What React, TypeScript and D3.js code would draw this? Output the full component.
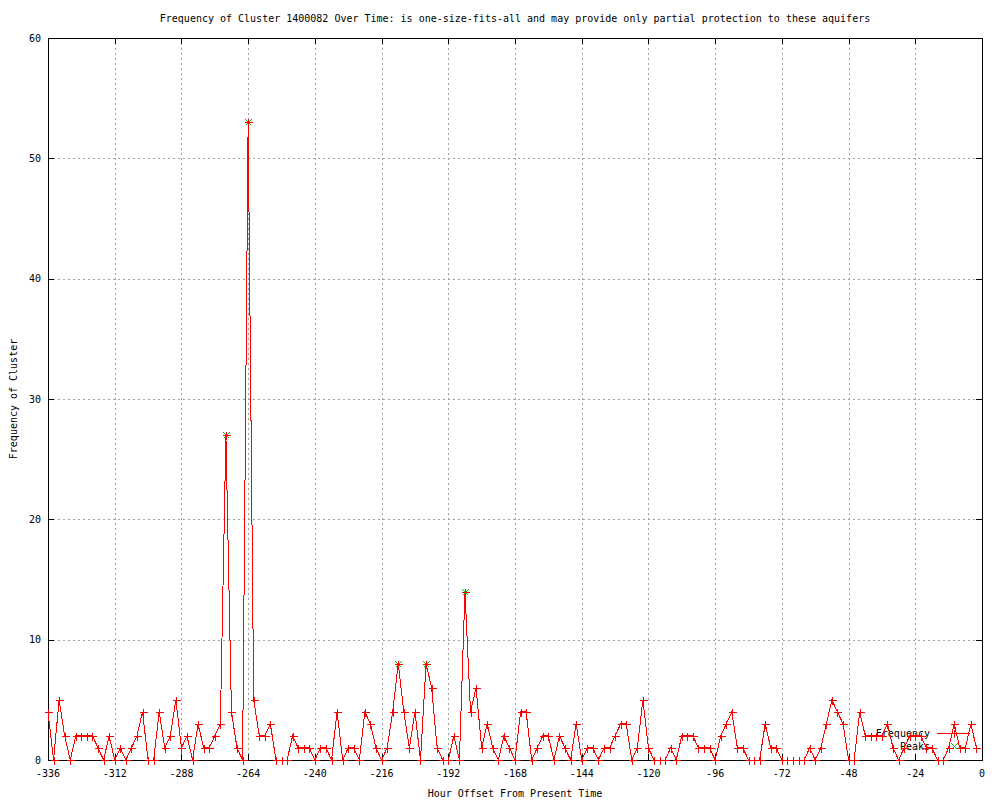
import React from 'react';
import * as d3 from 'd3';

const hours: number[] = [
  -336, -334, -332, -330, -328, -326, -324, -322, -320, -318, -316, -314, -312, -310, -308, -306,
  -304, -302, -300, -298, -296, -294, -292, -290, -288, -286, -284, -282, -280, -278, -276, -274,
  -272, -270, -268, -266, -264, -262, -260, -258, -256, -254, -252, -250, -248, -246, -244, -242,
  -240, -238, -236, -234, -232, -230, -228, -226, -224, -222, -220, -218, -216, -214, -212, -210,
  -208, -206, -204, -202, -200, -198, -196, -194, -192, -190, -188, -186, -184, -182, -180, -178,
  -176, -174, -172, -170, -168, -166, -164, -162, -160, -158, -156, -154, -152, -150, -148, -146,
  -144, -142, -140, -138, -136, -134, -132, -130, -128, -126, -124, -122, -120, -118, -116, -114,
  -112, -110, -108, -106, -104, -102, -100, -98, -96, -94, -92, -90, -88, -86, -84, -82,
  -80, -78, -76, -74, -72, -70, -68, -66, -64, -62, -60, -58, -56, -54, -52, -50,
  -48, -46, -44, -42, -40, -38, -36, -34, -32, -30, -28, -26, -24, -22, -20, -18,
  -16, -14, -12, -10, -8, -6, -4, -2,
];

const frequency: number[] = [
  4, 0, 5, 2, 0, 2, 2, 2, 2, 1, 0, 2, 0, 1, 0, 1,
  2, 4, 0, 0, 4, 1, 2, 5, 1, 2, 0, 3, 1, 1, 2, 3,
  27, 4, 1, 0, 53, 5, 2, 2, 3, 0, 0, 0, 2, 1, 1, 1,
  0, 1, 1, 0, 4, 0, 1, 1, 0, 4, 3, 1, 0, 1, 4, 8,
  4, 1, 4, 0, 8, 6, 1, 0, 0, 2, 0, 14, 4, 6, 1, 3,
  1, 0, 2, 1, 0, 4, 4, 0, 1, 2, 2, 0, 2, 1, 0, 3,
  0, 1, 1, 0, 1, 1, 2, 3, 3, 0, 1, 5, 1, 0, 0, 0,
  1, 0, 2, 2, 2, 1, 1, 1, 0, 2, 3, 4, 1, 1, 0, 0,
  0, 3, 1, 1, 0, 0, 0, 0, 0, 1, 0, 1, 3, 5, 4, 3,
  0, 0, 4, 2, 2, 2, 2, 3, 1, 0, 1, 2, 2, 2, 1, 1,
  0, 0, 1, 3, 1, 1, 3, 1,
];

const peakHours: number[] = [-272, -264, -210, -200, -186];
const peakValues: number[] = [27, 53, 8, 8, 14];

const xTicks: number[] = [-336, -312, -288, -264, -240, -216, -192, -168, -144, -120, -96, -72, -48, -24, 0];
const yTicks: number[] = [0, 10, 20, 30, 40, 50, 60];

const titleText = 'Frequency of Cluster 1400082 Over Time: is one-size-fits-all and may provide only partial protection to these aquifers';
const xLabel = 'Hour Offset From Present Time';
const yLabel = 'Frequency of Cluster';
const legendLabels: string[] = ['Frequency', 'Peaks'];

const L = 48, R = 982, T = 38, B = 760;
const FONT = '"DejaVu Sans Mono", monospace';

export default function App() {
  const x = d3.scaleLinear().domain([-336, 0]).range([L, R]);
  const y = d3.scaleLinear().domain([0, 60]).range([B, T]);

  const pts = hours.map((h, i) => [x(h), y(frequency[i])] as [number, number]);
  const line = d3.line<[number, number]>().x(d => d[0]).y(d => d[1])(pts) || '';

  const plus = (cx: number, cy: number) => `M${cx - 4},${cy}H${cx + 4}M${cx},${cy - 4}V${cy + 4}`;
  const cross = (cx: number, cy: number) => `M${cx - 3},${cy - 3}L${cx + 3},${cy + 3}M${cx - 3},${cy + 3}L${cx + 3},${cy - 3}`;

  const plusPath = pts.map(p => plus(Math.round(p[0]) + 0.5, Math.round(p[1]) + 0.5)).join('');
  const crossPath = peakHours.map((h, i) => cross(Math.round(x(h)) + 0.5, Math.round(y(peakValues[i])) + 0.5)).join('');

  const legY1 = 733, legY2 = 746;
  const legLineX0 = 937, legLineX1 = 970, legMid = 954;

  return (
    <svg width={1000} height={800} style={{ position: 'absolute', left: 0, top: 0, background: '#fff' }}
      fontFamily={FONT} fontSize={10}>
      <rect x={0} y={0} width={1000} height={800} fill="#fff" />
      {/* grid */}
      <g stroke="#a0a0a0" strokeDasharray="2,3" shapeRendering="crispEdges" strokeWidth={1}>
        {xTicks.filter(t => t !== -336 && t !== 0).map(t => (
          <line key={'gx' + t} x1={Math.round(x(t)) + 0.5} x2={Math.round(x(t)) + 0.5} y1={T} y2={B} />
        ))}
        {yTicks.filter(t => t !== 0 && t !== 60).map(t => (
          <line key={'gy' + t} x1={L} x2={R} y1={Math.round(y(t)) + 0.5} y2={Math.round(y(t)) + 0.5} />
        ))}
      </g>
      {/* ticks */}
      <g stroke="#000" shapeRendering="crispEdges" strokeWidth={1}>
        {xTicks.map(t => (
          <g key={'tx' + t}>
            <line x1={Math.round(x(t)) + 0.5} x2={Math.round(x(t)) + 0.5} y1={B} y2={B - 6} />
            <line x1={Math.round(x(t)) + 0.5} x2={Math.round(x(t)) + 0.5} y1={T} y2={T + 6} />
          </g>
        ))}
        {yTicks.map(t => (
          <g key={'ty' + t}>
            <line x1={L} x2={L + 6} y1={Math.round(y(t)) + 0.5} y2={Math.round(y(t)) + 0.5} />
            <line x1={R} x2={R - 6} y1={Math.round(y(t)) + 0.5} y2={Math.round(y(t)) + 0.5} />
          </g>
        ))}
        <rect x={L + 0.5} y={T + 0.5} width={R - L} height={B - T} fill="none" />
      </g>
      {/* tick labels */}
      <g fill="#000">
        {xTicks.map(t => (
          <text key={'lx' + t} x={x(t)} y={773} textAnchor="middle" dominantBaseline="central">{t}</text>
        ))}
        {yTicks.map(t => (
          <text key={'ly' + t} x={41} y={y(t)} textAnchor="end" dominantBaseline="central">{t}</text>
        ))}
        <text x={515} y={18} textAnchor="middle" dominantBaseline="central">{titleText}</text>
        <text x={515} y={793} textAnchor="middle" dominantBaseline="central">{xLabel}</text>
        <text transform={`translate(13,${(T + B) / 2}) rotate(-90)`} textAnchor="middle" dominantBaseline="central">{yLabel}</text>
      </g>
      {/* legend */}
      <g>
        <text x={930} y={legY1} textAnchor="end" dominantBaseline="central">{legendLabels[0]}</text>
        <text x={930} y={legY2} textAnchor="end" dominantBaseline="central">{legendLabels[1]}</text>
        <line x1={legLineX0} x2={legLineX1} y1={legY1 + 0.5} y2={legY1 + 0.5} stroke="#ff0000" shapeRendering="crispEdges" />
        <path d={plus(legMid + 0.5, legY1 + 0.5)} stroke="#ff0000" fill="none" shapeRendering="crispEdges" />
        <path d={cross(legMid + 0.5, legY2 + 0.5)} stroke="#00c000" fill="none" shapeRendering="crispEdges" />
      </g>
      {/* data */}
      <path d={line} fill="none" stroke="#ff0000" strokeWidth={1} shapeRendering="crispEdges" />
      <path d={crossPath} fill="none" stroke="#00c000" strokeWidth={1} shapeRendering="crispEdges" />
      <path d={plusPath} fill="none" stroke="#ff0000" strokeWidth={1} shapeRendering="crispEdges" />
    </svg>
  );
}
